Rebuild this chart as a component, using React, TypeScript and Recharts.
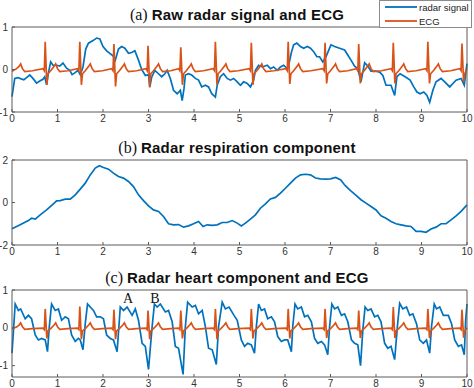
import { LineChart, Line, XAxis, YAxis, ReferenceDot } from 'recharts';

type Pt = [number, number];

const timeTicks = [0, 1, 2, 3, 4, 5, 6, 7, 8, 9, 10];
const rawTicks = [-1, 0, 1];
const respTicks = [-2, 0, 2];
const heartTicks = [-1, 0, 1];

const legendNames = ['radar signal', 'ECG'];

// (a) raw radar signal
const rawRadar: Pt[] = [
  [0, -0.64], [0.06, -0.21], [0.13, -0.19], [0.2, -0.22], [0.26, -0.24], [0.32, -0.19], [0.39, -0.13],
  [0.46, -0.21], [0.54, -0.32], [0.61, -0.27], [0.68, -0.23], [0.72, -0.17], [0.76, -0.36], [0.8, -0.08],
  [0.85, 0.18], [0.9, 0.1], [0.98, 0.1], [1.05, 0.08], [1.12, 0.15], [1.2, 0.03], [1.27, -0.02],
  [1.32, -0.12], [1.38, -0.08], [1.45, -0.02], [1.5, -0.12], [1.56, 0.06], [1.62, 0.48], [1.68, 0.62],
  [1.78, 0.68], [1.86, 0.74], [1.93, 0.72], [2.0, 0.54], [2.08, 0.44], [2.15, 0.38], [2.22, 0.32],
  [2.27, 0.22], [2.34, 0.48], [2.41, 0.54], [2.48, 0.5], [2.56, 0.38], [2.63, 0.4], [2.7, 0.44],
  [2.78, 0.22], [2.85, 0.0], [2.93, -0.14], [3.0, -0.12], [3.03, -0.41], [3.07, -0.18], [3.14, -0.02],
  [3.22, -0.1], [3.29, -0.17], [3.36, -0.1], [3.41, -0.02], [3.48, -0.21], [3.55, -0.49], [3.63, -0.57],
  [3.7, -0.49], [3.74, -0.73], [3.78, -0.45], [3.81, -0.13], [3.88, -0.1], [3.95, -0.13], [4.03, -0.21],
  [4.1, -0.25], [4.17, -0.41], [4.25, -0.37], [4.32, -0.41], [4.39, -0.57], [4.47, -0.65], [4.51, -0.37],
  [4.58, -0.17], [4.65, -0.1], [4.73, -0.21], [4.8, -0.25], [4.87, -0.21], [4.95, -0.29], [5.02, -0.37],
  [5.09, -0.29], [5.17, -0.33], [5.24, -0.41], [5.31, -0.25], [5.35, -0.02], [5.42, 0.1], [5.5, 0.06],
  [5.61, 0.1], [5.68, 0.02], [5.75, 0.06], [5.83, -0.02], [5.9, 0.06], [5.97, 0.1], [6.05, 0.02],
  [6.09, 0.14], [6.14, 0.4], [6.19, 0.58], [6.26, 0.62], [6.34, 0.54], [6.41, 0.5], [6.49, 0.54],
  [6.56, 0.5], [6.63, 0.42], [6.7, 0.3], [6.76, 0.3], [6.83, 0.18], [6.9, 0.3], [7.01, 0.58],
  [7.09, 0.54], [7.2, 0.5], [7.31, 0.46], [7.38, 0.34], [7.45, 0.22], [7.53, 0.08], [7.6, 0.02],
  [7.67, -0.29], [7.75, 0.16], [7.82, 0.08], [7.89, -0.04], [8.0, -0.04], [8.08, -0.06], [8.15, -0.14],
  [8.22, -0.37], [8.33, -0.37], [8.41, -0.61], [8.46, -0.17], [8.53, -0.1], [8.64, -0.17], [8.75, -0.25],
  [8.83, -0.41], [8.9, -0.53], [8.97, -0.57], [9.05, -0.53], [9.12, -0.61], [9.18, -0.77], [9.25, -0.49],
  [9.32, -0.29], [9.43, -0.21], [9.51, -0.29], [9.62, -0.41], [9.69, -0.33], [9.76, -0.25], [9.87, -0.21],
  [9.94, -0.37], [9.99, 0.06], [10, 0.14],
];

const rawEcg: Pt[] = [
  [0, -0.04], [0.1, 0.02], [0.16, 0.08], [0.19, 0.13], [0.23, 0.02], [0.28, -0.05], [0.45, -0.03],
  [0.68, 0.02], [0.71, -0.03], [0.73, 0.65], [0.765, -0.36], [0.79, -0.1], [0.85, -0.03], [0.93, 0.08], [0.96, 0.13], [1.0, 0.02], [1.05, -0.05], [1.23, -0.03],
  [1.44, 0.02], [1.47, -0.03], [1.49, 0.65], [1.525, -0.36], [1.55, -0.1], [1.61, -0.03], [1.69, 0.08], [1.72, 0.13], [1.76, 0.02], [1.81, -0.05], [1.99, -0.03],
  [2.19, 0.02], [2.22, -0.03], [2.24, 0.6], [2.275, -0.4], [2.3, -0.1], [2.36, -0.03], [2.44, 0.08], [2.47, 0.13], [2.51, 0.02], [2.56, -0.05], [2.74, -0.03],
  [2.94, 0.02], [2.97, -0.03], [2.99, 0.56], [3.025, -0.42], [3.05, -0.1], [3.11, -0.03], [3.19, 0.08], [3.22, 0.13], [3.26, 0.02], [3.31, -0.05], [3.49, -0.03],
  [3.66, 0.02], [3.69, -0.03], [3.71, 0.52], [3.745, -0.36], [3.77, -0.1], [3.83, -0.03], [3.91, 0.08], [3.94, 0.13], [3.98, 0.02], [4.03, -0.05], [4.21, -0.03],
  [4.42, 0.02], [4.45, -0.03], [4.47, 0.65], [4.505, -0.36], [4.53, -0.1], [4.59, -0.03], [4.67, 0.08], [4.7, 0.13], [4.74, 0.02], [4.79, -0.05], [4.97, -0.03],
  [5.21, 0.02], [5.24, -0.03], [5.26, 0.63], [5.295, -0.36], [5.32, -0.1], [5.38, -0.03], [5.46, 0.08], [5.49, 0.13], [5.53, 0.02], [5.58, -0.05], [5.76, -0.03],
  [6.02, 0.02], [6.05, -0.03], [6.07, 0.65], [6.105, -0.34], [6.13, -0.1], [6.19, -0.03], [6.27, 0.08], [6.3, 0.13], [6.34, 0.02], [6.39, -0.05], [6.57, -0.03],
  [6.83, 0.02], [6.86, -0.03], [6.88, 0.63], [6.915, -0.33], [6.94, -0.1], [7.0, -0.03], [7.08, 0.08], [7.11, 0.13], [7.15, 0.02], [7.2, -0.05], [7.38, -0.03],
  [7.57, 0.02], [7.6, -0.03], [7.62, 0.6], [7.655, -0.33], [7.68, -0.1], [7.74, -0.03], [7.82, 0.08], [7.85, 0.13], [7.89, 0.02], [7.94, -0.05], [8.12, -0.03],
  [8.33, 0.02], [8.36, -0.03], [8.38, 0.63], [8.415, -0.33], [8.44, -0.1], [8.5, -0.03], [8.58, 0.08], [8.61, 0.13], [8.65, 0.02], [8.7, -0.05], [8.88, -0.03],
  [9.09, 0.02], [9.12, -0.03], [9.14, 0.65], [9.175, -0.33], [9.2, -0.1], [9.26, -0.03], [9.34, 0.08], [9.37, 0.13], [9.41, 0.02], [9.46, -0.05], [9.64, -0.03],
  [9.84, 0.02], [9.87, -0.03], [9.89, 0.61], [9.925, -0.3], [9.95, -0.1], [10, 0.02],
];

// (b) respiration component
const respiration: Pt[] = [
  [0, -1.24], [0.18, -1.05], [0.36, -0.85], [0.43, -0.74], [0.51, -0.78], [0.62, -0.58], [0.76, -0.35],
  [0.91, -0.06], [0.98, 0.08], [1.06, 0.09], [1.17, 0.16], [1.28, 0.16], [1.39, 0.36], [1.5, 0.63],
  [1.61, 0.91], [1.72, 1.3], [1.83, 1.62], [1.92, 1.73], [2.01, 1.65], [2.12, 1.57], [2.23, 1.38],
  [2.34, 1.22], [2.45, 1.15], [2.56, 0.99], [2.67, 0.75], [2.78, 0.36], [2.89, 0.09], [3.0, -0.16],
  [3.11, -0.35], [3.22, -0.42], [3.33, -0.66], [3.44, -1.0], [3.55, -1.05], [3.66, -1.04], [3.77, -1.16],
  [3.88, -1.1], [3.99, -1.0], [4.1, -0.89], [4.2, -1.13], [4.29, -1.05], [4.4, -1.08], [4.51, -1.05],
  [4.62, -0.94], [4.73, -0.94], [4.84, -0.85], [4.95, -0.97], [5.04, -1.1], [5.13, -0.97], [5.24, -0.78],
  [5.35, -0.58], [5.46, -0.27], [5.57, -0.06], [5.68, 0.17], [5.79, 0.24], [5.9, 0.44], [6.01, 0.67],
  [6.12, 0.91], [6.23, 1.15], [6.34, 1.3], [6.45, 1.33], [6.56, 1.3], [6.67, 1.15], [6.78, 1.11],
  [6.89, 1.1], [7.0, 1.11], [7.11, 1.18], [7.22, 1.07], [7.33, 0.78], [7.44, 0.56], [7.55, 0.36],
  [7.67, 0.13], [7.78, -0.03], [7.89, -0.19], [8.0, -0.35], [8.11, -0.63], [8.22, -0.74], [8.33, -0.89],
  [8.44, -1.0], [8.55, -1.05], [8.66, -1.1], [8.77, -1.13], [8.88, -1.36], [8.99, -1.36], [9.1, -1.4],
  [9.21, -1.25], [9.32, -1.16], [9.43, -1.0], [9.54, -1.0], [9.65, -0.82], [9.76, -0.63], [9.87, -0.42],
  [10, -0.11],
];

// (c) heart component and ECG
const heartRadar: Pt[] = [
  [0, -0.67], [0.07, 0.63], [0.14, 0.46], [0.19, 0.5], [0.29, 0.24], [0.36, 0.33], [0.43, 0.24],
  [0.51, -0.19], [0.58, -0.32], [0.65, -0.28], [0.73, -0.32], [0.78, -0.63], [0.82, 0.03], [0.87, 0.63],
  [0.95, 0.46], [1.02, 0.5], [1.09, 0.2], [1.17, 0.29], [1.24, 0.24], [1.31, -0.19], [1.39, -0.36],
  [1.46, -0.28], [1.5, -0.32], [1.56, -0.58], [1.61, 0.11], [1.66, 0.63], [1.72, 0.55], [1.79, 0.46],
  [1.86, 0.29], [1.94, 0.29], [2.01, 0.24], [2.08, -0.19], [2.16, -0.28], [2.23, -0.32], [2.31, -0.63],
  [2.38, 0.55], [2.45, 0.46], [2.53, 0.55], [2.64, 0.33], [2.71, 0.5], [2.78, 0.2], [2.86, -0.41],
  [2.93, -0.49], [3.0, -1.1], [3.08, 0.03], [3.13, 0.63], [3.19, 0.55], [3.26, 0.63], [3.37, 0.42],
  [3.44, 0.46], [3.52, 0.16], [3.59, -0.49], [3.66, -0.54], [3.76, -1.23], [3.81, 0.03], [3.86, 0.68],
  [3.96, 0.55], [4.03, 0.59], [4.1, 0.37], [4.18, 0.46], [4.25, 0.03], [4.32, -0.54], [4.4, -0.58],
  [4.49, -0.97], [4.54, 0.03], [4.62, 0.68], [4.69, 0.5], [4.77, 0.55], [4.88, 0.33], [4.95, 0.2],
  [5.04, -0.32], [5.11, -0.49], [5.18, -0.41], [5.26, -0.45], [5.33, -0.67], [5.37, 0.03], [5.42, 0.63],
  [5.48, 0.46], [5.55, 0.5], [5.62, 0.24], [5.7, 0.29], [5.77, 0.16], [5.84, -0.23], [5.92, -0.36],
  [5.99, -0.32], [6.06, -0.32], [6.14, -0.63], [6.17, 0.03], [6.22, 0.63], [6.28, 0.5], [6.36, 0.55],
  [6.43, 0.29], [6.5, 0.33], [6.58, 0.16], [6.65, -0.28], [6.72, -0.41], [6.8, -0.36], [6.87, -0.45],
  [6.94, -0.71], [6.98, 0.03], [7.03, 0.63], [7.09, 0.5], [7.16, 0.55], [7.24, 0.33], [7.31, 0.37],
  [7.38, 0.16], [7.46, -0.32], [7.53, -0.41], [7.6, -0.45], [7.66, -1.0], [7.71, -0.06], [7.76, 0.55],
  [7.82, 0.46], [7.89, 0.5], [7.97, 0.29], [8.04, 0.33], [8.11, 0.16], [8.19, -0.41], [8.26, -0.54],
  [8.33, -0.49], [8.41, -0.84], [8.47, 0.03], [8.52, 0.65], [8.59, 0.5], [8.67, 0.55], [8.74, 0.33],
  [8.81, 0.37], [8.89, 0.11], [8.96, -0.32], [9.04, -0.41], [9.11, -0.32], [9.18, -0.67], [9.22, 0.03],
  [9.28, 0.63], [9.33, 0.5], [9.4, 0.55], [9.48, 0.33], [9.59, 0.33], [9.66, 0.11], [9.73, -0.32],
  [9.81, -0.49], [9.88, -0.45], [9.94, -0.71], [9.97, 0.2], [10, 0.63],
];

const heartEcg: Pt[] = [
  [0, -0.02], [0.1, 0.02], [0.16, 0.08], [0.19, 0.13], [0.23, 0.03], [0.28, -0.04], [0.45, -0.02],
  [0.68, -0.01], [0.71, -0.05], [0.73, 0.5], [0.765, -0.28], [0.79, -0.08], [0.85, -0.02], [0.93, 0.08], [0.96, 0.13], [1.0, 0.03], [1.05, -0.04], [1.23, -0.02],
  [1.44, -0.01], [1.47, -0.05], [1.49, 0.56], [1.525, -0.3], [1.55, -0.08], [1.61, -0.02], [1.69, 0.08], [1.72, 0.13], [1.76, 0.03], [1.81, -0.04], [1.99, -0.02],
  [2.19, -0.01], [2.22, -0.05], [2.24, 0.48], [2.275, -0.3], [2.3, -0.08], [2.36, -0.02], [2.44, 0.08], [2.47, 0.13], [2.51, 0.03], [2.56, -0.04], [2.74, -0.02],
  [2.94, -0.01], [2.97, -0.05], [2.99, 0.46], [3.025, -0.3], [3.05, -0.08], [3.11, -0.02], [3.19, 0.08], [3.22, 0.13], [3.26, 0.03], [3.31, -0.04], [3.49, -0.02],
  [3.66, -0.01], [3.69, -0.05], [3.71, 0.46], [3.745, -0.28], [3.77, -0.08], [3.83, -0.02], [3.91, 0.08], [3.94, 0.13], [3.98, 0.03], [4.03, -0.04], [4.21, -0.02],
  [4.42, -0.01], [4.45, -0.05], [4.47, 0.5], [4.505, -0.3], [4.53, -0.08], [4.59, -0.02], [4.67, 0.08], [4.7, 0.13], [4.74, 0.03], [4.79, -0.04], [4.97, -0.02],
  [5.21, -0.01], [5.24, -0.05], [5.26, 0.5], [5.295, -0.28], [5.32, -0.08], [5.38, -0.02], [5.46, 0.08], [5.49, 0.13], [5.53, 0.03], [5.58, -0.04], [5.76, -0.02],
  [6.02, -0.01], [6.05, -0.05], [6.07, 0.5], [6.105, -0.28], [6.13, -0.08], [6.19, -0.02], [6.27, 0.08], [6.3, 0.13], [6.34, 0.03], [6.39, -0.04], [6.57, -0.02],
  [6.83, -0.01], [6.86, -0.05], [6.88, 0.5], [6.915, -0.27], [6.94, -0.08], [7.0, -0.02], [7.08, 0.08], [7.11, 0.13], [7.15, 0.03], [7.2, -0.04], [7.38, -0.02],
  [7.57, -0.01], [7.6, -0.05], [7.62, 0.46], [7.655, -0.27], [7.68, -0.08], [7.74, -0.02], [7.82, 0.08], [7.85, 0.13], [7.89, 0.03], [7.94, -0.04], [8.12, -0.02],
  [8.33, -0.01], [8.36, -0.05], [8.38, 0.55], [8.415, -0.27], [8.44, -0.08], [8.5, -0.02], [8.58, 0.08], [8.61, 0.13], [8.65, 0.03], [8.7, -0.04], [8.88, -0.02],
  [9.09, -0.01], [9.12, -0.05], [9.14, 0.5], [9.175, -0.27], [9.2, -0.08], [9.26, -0.02], [9.34, 0.08], [9.37, 0.13], [9.41, 0.03], [9.46, -0.04], [9.64, -0.02],
  [9.84, -0.01], [9.87, -0.05], [9.89, 0.48], [9.925, -0.26], [9.95, -0.08], [10, 0.0],
];

const noteLabels = ['A', 'B'];
const noteTimes = [2.55, 3.14];
const noteValues = [0.8, 0.8];

const BLUE = '#0072BD';
const ORANGE = '#D95319';
const AXIS = '#5a5a5a';
const W = 474;
const H = 388;

const toRows = (pts: Pt[]) => pts.map(([t, v]) => ({ t, v }));

const tickStyle = { fill: '#333', fontSize: 10, fontFamily: 'Liberation Sans, Arial, sans-serif' };

interface PanelProps {
  top: number;
  bottom: number;
  yDomain: [number, number];
  yTicks: number[];
  series: { name: string; pts: Pt[]; color: string }[];
  notes?: boolean;
}

// axes are 1px thick (recharts skips 0-size axes), so margins are reduced by 1
function Panel({ top, bottom, yDomain, yTicks, series, notes }: PanelProps) {
  return (
    <div style={{ position: 'absolute', left: 0, top: 0 }}>
      <LineChart width={W} height={H} margin={{ top: top - 1, bottom: H - bottom - 1, left: 11, right: 6 }}>
        <XAxis xAxisId="x" type="number" dataKey="t" domain={[0, 10]} ticks={timeTicks} interval={0}
          height={1} tickSize={-3} tickMargin={6} stroke={AXIS} tick={tickStyle} />
        <XAxis xAxisId="xt" orientation="top" type="number" dataKey="t" domain={[0, 10]} ticks={timeTicks}
          interval={0} height={1} tickSize={-3} tick={false} stroke={AXIS} />
        <YAxis yAxisId="y" type="number" domain={yDomain} ticks={yTicks} interval={0} width={1}
          tickSize={-3} tickMargin={7} stroke={AXIS} tick={tickStyle} allowDataOverflow />
        <YAxis yAxisId="yr" orientation="right" type="number" domain={yDomain} ticks={yTicks} interval={0}
          width={1} tickSize={-3} tick={false} stroke={AXIS} />
        {series.map((s) => (
          <Line key={s.name} xAxisId="x" yAxisId="y" data={toRows(s.pts)} dataKey="v" name={s.name}
            type="linear" stroke={s.color} strokeWidth={1.7} dot={false} isAnimationActive={false} />
        ))}
        {notes && noteLabels.map((label, i) => (
          <ReferenceDot key={label} xAxisId="x" yAxisId="y" x={noteTimes[i]} y={noteValues[i]} r={0}
            stroke="none"
            label={{ value: label, position: 'center', fill: '#111', fontSize: 14, fontFamily: 'Liberation Serif, Times New Roman, serif' }} />
        ))}
      </LineChart>
    </div>
  );
}

function Title({ y, tag, text }: { y: number; tag: string; text: string }) {
  return (
    <text x={237} y={y} textAnchor="middle" fill="#111">
      <tspan fontFamily="Liberation Serif, Times New Roman, serif" fontSize={16}>{tag} </tspan>
      <tspan fontFamily="Liberation Sans, Arial, sans-serif" fontWeight="bold" fontSize={15} letterSpacing={0.2}>{text}</tspan>
    </text>
  );
}

export default function App() {
  const legendColors = [BLUE, ORANGE];
  return (
    <div style={{ position: 'fixed', left: 0, top: 0, width: W, height: H, background: '#fff' }}>
      <Panel top={27} bottom={112} yDomain={[-1, 1]} yTicks={rawTicks}
        series={[{ name: 'radar', pts: rawRadar, color: BLUE }, { name: 'ecg', pts: rawEcg, color: ORANGE }]} />
      <Panel top={160} bottom={245} yDomain={[-2, 2]} yTicks={respTicks}
        series={[{ name: 'resp', pts: respiration, color: BLUE }]} />
      <Panel top={290} bottom={377} yDomain={[-1.3, 1]} yTicks={heartTicks} notes
        series={[{ name: 'heart', pts: heartRadar, color: BLUE }, { name: 'ecg', pts: heartEcg, color: ORANGE }]} />
      <svg width={W} height={H} style={{ position: 'absolute', left: 0, top: 0, pointerEvents: 'none' }}>
        <Title y={19.5} tag="(a)" text="Raw radar signal and ECG" />
        <Title y={152.5} tag="(b)" text="Radar respiration component" />
        <Title y={283} tag="(c)" text="Radar heart component and ECG" />
        <rect x={379.5} y={0.5} width={92} height={27} fill="#fff" stroke="#8a8a8a" />
        {legendNames.map((name, i) => (
          <g key={name}>
            <line x1={385} x2={417} y1={7 + i * 14} y2={7 + i * 14} stroke={legendColors[i]} strokeWidth={1.8} />
            <text x={419} y={10.5 + i * 14} fontSize={9.5} fill="#222"
              fontFamily="Liberation Sans, Arial, sans-serif">{name}</text>
          </g>
        ))}
      </svg>
    </div>
  );
}
